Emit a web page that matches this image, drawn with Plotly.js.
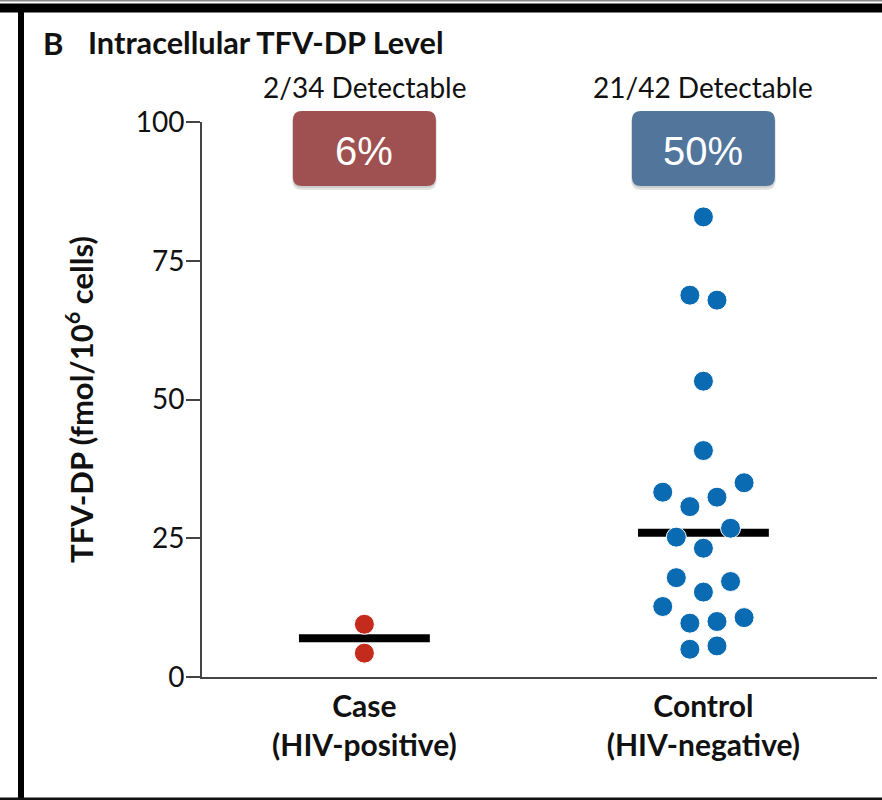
<!DOCTYPE html>
<html>
<head>
<meta charset="utf-8">
<script src="https://cdn.plot.ly/plotly-3.0.1.min.js"></script>
<style>
  html, body { margin: 0; padding: 0; background: #ffffff; }
  #chart { width: 882px; height: 800px; }
</style>
</head>
<body>
<div id="chart"></div>
<script>
// ---------------- data ----------------
const categories = ['Case', 'Control'];
const categorySubtitles = ['(HIV-positive)', '(HIV-negative)'];
const detectableLabels = ['2/34 Detectable', '21/42 Detectable'];
const percentLabels = ['6%', '50%'];

// TFV-DP (fmol/10^6 cells), detectable samples only
const caseValues = [9.5, 4.3];
const caseSlots = [0, 0];              // jitter slot of each point (beeswarm column)
const controlValues = [82.9, 68.8, 67.9, 53.3, 40.8, 33.3, 35.0, 32.4, 30.7, 26.8, 25.2,
                       23.2, 17.9, 17.2, 15.3, 12.7, 9.7, 10.0, 10.7, 5.0, 5.6];
const controlSlots = [0, -1, 1, 0, 0, -3, 3, 1, -1, 2, -2,
                      0, -2, 2, 0, -3, -1, 1, 3, -1, 1];
const medians = [7.0, 26.0];
const yTicks = [0, 25, 50, 75, 100];

// ---------------- layout constants ----------------
const W = 882, H = 800;
const L = 202, R = 877, T = 122, B = 677;   // plot area in pixels
const slotWidth = 0.04;                      // category units per jitter slot
const medianHalf = 0.193;
const xRange = [-0.479, 1.512];
const FONT = 'Lato, "Open Sans", "DejaVu Sans", sans-serif';

const px2x = px => (px - L) / (R - L);
const py2y = py => (B - py) / (B - T);
const cat2paper = c => (c - xRange[0]) / (xRange[1] - xRange[0]);

// ---------------- traces ----------------
const medX = [], medY = [];
medians.forEach((m, i) => {
  medX.push(i - medianHalf, i + medianHalf, null);
  medY.push(m, m, null);
});

const traces = [
  {
    type: 'scatter', mode: 'lines', x: medX, y: medY,
    line: { color: '#000000', width: 8 }, hoverinfo: 'skip', showlegend: false
  },
  {
    type: 'scatter', mode: 'markers',
    x: caseSlots.map(s => 0 + s * slotWidth), y: caseValues,
    marker: { size: 20, color: '#c42b1c', line: { color: '#ffffff', width: 1 } },
    showlegend: false, name: categories[0]
  },
  {
    type: 'scatter', mode: 'markers',
    x: controlSlots.map(s => 1 + s * slotWidth), y: controlValues,
    marker: { size: 20, color: '#0a6bb3', line: { color: '#ffffff', width: 1 } },
    showlegend: false, name: categories[1]
  }
];

// ---------------- decorations ----------------
const shapes = [];
// frame
shapes.push({ type: 'rect', xref: 'paper', yref: 'paper', x0: px2x(0), x1: px2x(882), y0: py2y(0), y1: py2y(1.5), fillcolor: '#888888', line: { width: 0 }, layer: 'above' });
shapes.push({ type: 'rect', xref: 'paper', yref: 'paper', x0: px2x(0), x1: px2x(882), y0: py2y(3.5), y1: py2y(12.5), fillcolor: '#000000', line: { width: 0 }, layer: 'above' });
shapes.push({ type: 'rect', xref: 'paper', yref: 'paper', x0: px2x(18), x1: px2x(24), y0: py2y(12), y1: py2y(800), fillcolor: '#000000', line: { width: 0 }, layer: 'above' });
shapes.push({ type: 'rect', xref: 'paper', yref: 'paper', x0: px2x(0), x1: px2x(882), y0: py2y(797.5), y1: py2y(800), fillcolor: '#111111', line: { width: 0 }, layer: 'above' });

// rounded badges
function roundedRectPath(x0, y0, x1, y1, r) {
  // pixel coords -> paper coords path
  const X = px2x, Y = py2y;
  return 'M ' + X(x0 + r) + ' ' + Y(y0) +
    ' L ' + X(x1 - r) + ' ' + Y(y0) +
    ' Q ' + X(x1) + ' ' + Y(y0) + ' ' + X(x1) + ' ' + Y(y0 + r) +
    ' L ' + X(x1) + ' ' + Y(y1 - r) +
    ' Q ' + X(x1) + ' ' + Y(y1) + ' ' + X(x1 - r) + ' ' + Y(y1) +
    ' L ' + X(x0 + r) + ' ' + Y(y1) +
    ' Q ' + X(x0) + ' ' + Y(y1) + ' ' + X(x0) + ' ' + Y(y1 - r) +
    ' L ' + X(x0) + ' ' + Y(y0 + r) +
    ' Q ' + X(x0) + ' ' + Y(y0) + ' ' + X(x0 + r) + ' ' + Y(y0) + ' Z';
}
const badgeColors = ['#9e5150', '#52759b'];
const badgeHalf = 71.5, badgeTop = 111, badgeBottom = 186;
const annotations = [];
categories.forEach((c, i) => {
  const cx = L + cat2paper(i) * (R - L);
  // soft shadow
  shapes.push({ type: 'path', xref: 'paper', yref: 'paper', layer: 'above',
    path: roundedRectPath(cx - badgeHalf - 1, badgeTop + 2, cx + badgeHalf + 1, badgeBottom + 4, 10),
    fillcolor: 'rgba(0,0,0,0.10)', line: { width: 0 } });
  shapes.push({ type: 'path', xref: 'paper', yref: 'paper', layer: 'above',
    path: roundedRectPath(cx - badgeHalf, badgeTop + 1, cx + badgeHalf, badgeBottom + 2, 9),
    fillcolor: 'rgba(0,0,0,0.10)', line: { width: 0 } });
  shapes.push({ type: 'path', xref: 'paper', yref: 'paper', layer: 'above',
    path: roundedRectPath(cx - badgeHalf, badgeTop, cx + badgeHalf, badgeBottom, 9),
    fillcolor: badgeColors[i], line: { width: 0 } });
  annotations.push({ xref: 'x', yref: 'paper', x: i, y: py2y(151), text: percentLabels[i],
    showarrow: false, xanchor: 'center', yanchor: 'middle',
    font: { family: '"Liberation Sans", Arial, sans-serif', size: 40, color: '#ffffff' } });
  annotations.push({ xref: 'x', yref: 'paper', x: i, y: py2y(87), text: detectableLabels[i],
    showarrow: false, xanchor: 'center', yanchor: 'middle',
    font: { family: FONT, size: 28, color: '#111111' } });
});

annotations.push({ xref: 'paper', yref: 'paper', x: px2x(41), y: py2y(43), text: '<b>B</b>',
  showarrow: false, xanchor: 'left', yanchor: 'middle',
  font: { family: FONT, size: 31, color: '#111111' } });
annotations.push({ xref: 'paper', yref: 'paper', x: px2x(86), y: py2y(43), text: '<b>Intracellular TFV-DP Level</b>',
  showarrow: false, xanchor: 'left', yanchor: 'middle',
  font: { family: FONT, size: 30.7, color: '#111111' } });

// ---------------- layout ----------------
const layout = {
  width: W, height: H,
  margin: { l: L, r: W - R, t: T, b: H - B, pad: 0 },
  paper_bgcolor: '#ffffff', plot_bgcolor: '#ffffff',
  showlegend: false,
  xaxis: {
    range: xRange, showgrid: false, zeroline: false,
    showline: true, linecolor: '#444444', linewidth: 2,
    tickvals: categories.map((c, i) => i),
    ticktext: categories.map((c, i) => '<b>' + c + '</b><br><b>' + categorySubtitles[i] + '</b>'),
    ticks: '', tickfont: { family: FONT, size: 30, color: '#111111' },
    ticklabelstandoff: 2,
    fixedrange: true
  },
  yaxis: {
    range: [0, 100], showgrid: false, zeroline: false,
    showline: true, linecolor: '#444444', linewidth: 2,
    tickvals: yTicks, ticktext: yTicks.map(String),
    ticks: 'outside', ticklen: 14, tickwidth: 2, tickcolor: '#444444',
    tickfont: { family: FONT, size: 28, color: '#111111' },
    ticklabelstandoff: -4,
    title: { text: '<b>TFV-DP (fmol/10<sup>6</sup> cells)</b>', standoff: 33,
             font: { family: FONT, size: 31, color: '#111111' } },
    fixedrange: true
  },
  shapes: shapes,
  annotations: annotations
};

Plotly.newPlot('chart', traces, layout, { displayModeBar: false, staticPlot: true });
</script>
</body>
</html>
